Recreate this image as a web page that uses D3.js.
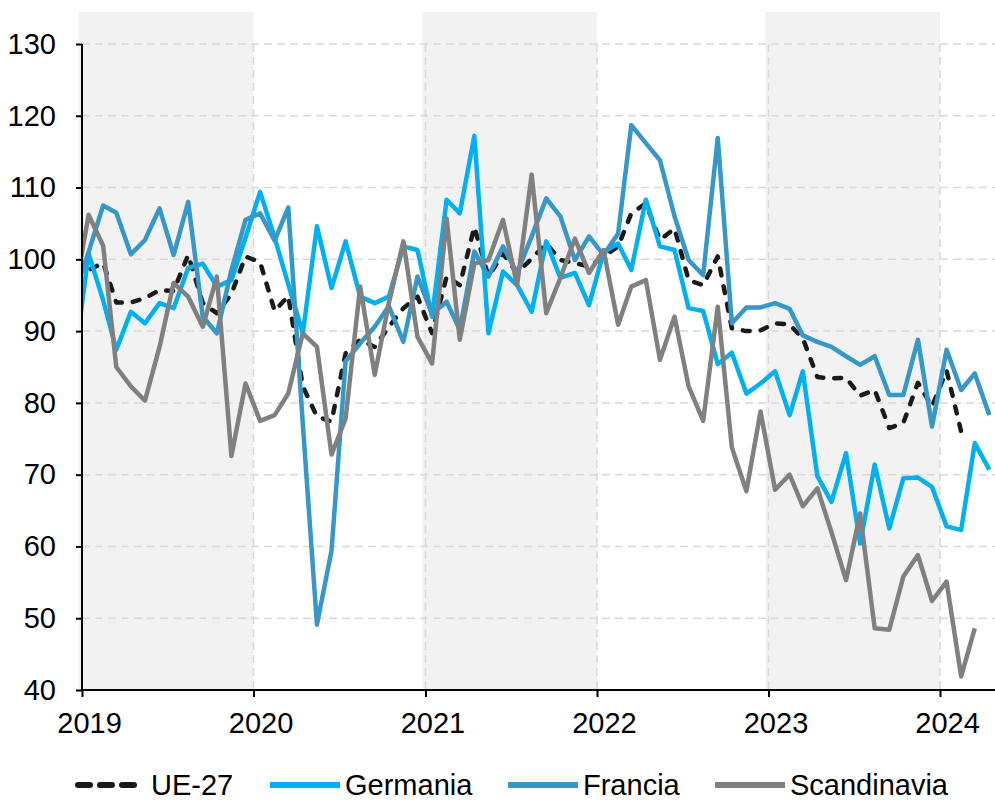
<!DOCTYPE html>
<html><head><meta charset="utf-8">
<script src="https://cdn.jsdelivr.net/npm/d3@7"></script>
<style>
body{margin:0;background:#fff;}
text{font-family:"Liberation Sans",Arial,sans-serif;}
</style>
</head><body>
<svg id="chart" width="995" height="800"></svg>
<script>
// Monthly data, first value = Dec 2018 (clipped at the left edge), last = Apr 2024
const firstMonth = [2018, 11];
const seriesNames = ["UE-27", "Germania", "Francia", "Scandinavia"];
const ue27 = [97.7, 98.5, 99.5, 94.0, 94.0, 94.6, 95.7, 95.6, 100.6, 93.9, 92.5, 95.2,
  100.4, 99.6, 92.8, 94.9, 82.3, 78.1, 77.4, 86.9, 88.8, 87.8, 90.6, 93.2,
  94.8, 89.7, 97.6, 96.4, 104.5, 97.6, 100.8, 98.1, 100.1, 102.2, 99.9, 99.5,
  99.0, 100.4, 101.8, 106.4, 107.8, 102.7, 104.3, 97.1, 96.4, 100.4, 90.4, 90.0,
  90.1, 91.1, 90.9, 89.0, 83.6, 83.4, 83.5, 81.0, 81.8, 76.5, 77.2, 82.8,
  79.5, 84.5, 76.0, null, null];
const germania = [85.2, 100.8, 94.3, 87.4, 92.7, 91.1, 93.9, 93.2, 98.8, 99.4, 96.2, 97.1,
  103.0, 109.4, 103.0, 96.5, 89.7, 104.6, 96.0, 102.5, 94.8, 93.9, 94.8, 101.8,
  101.3, 92.0, 108.3, 106.4, 117.2, 89.7, 98.3, 96.4, 92.7, 102.5, 97.4, 98.1,
  93.6, 101.0, 102.2, 98.5, 108.3, 101.8, 101.3, 93.2, 92.8, 85.4, 87.0, 81.3,
  82.7, 84.4, 78.3, 84.4, 69.8, 66.2, 73.0, 60.4, 71.4, 62.5, 69.5, 69.6,
  68.3, 62.8, 62.3, 74.4, 70.7];
const francia = [95.2, 101.0, 107.5, 106.5, 100.7, 102.7, 107.1, 100.6, 108.0, 92.0, 89.7, 98.5,
  105.5, 106.4, 102.6, 107.2, 77.0, 49.1, 59.4, 85.8, 88.3, 90.6, 93.5, 88.5,
  97.6, 92.4, 94.1, 90.2, 101.1, 97.6, 101.8, 98.1, 103.2, 108.5, 106.0, 99.9,
  103.2, 100.6, 103.6, 118.7, 116.2, 113.8, 106.0, 99.9, 97.8, 116.9, 91.1, 93.3,
  93.3, 93.9, 93.1, 89.4, 88.5, 87.8, 86.5, 85.3, 86.5, 81.1, 81.1, 88.8,
  76.7, 87.4, 81.8, 84.1, 78.3];
const scandinavia = [94.6, 106.2, 101.9, 85.0, 82.3, 80.3, 87.8, 96.7, 94.8, 90.6, 97.6, 72.6,
  82.7, 77.5, 78.3, 81.3, 89.7, 87.8, 72.8, 77.8, 96.2, 83.9, 93.9, 102.5,
  89.2, 85.5, 105.7, 88.8, 99.4, 99.9, 105.5, 96.4, 111.8, 92.5, 97.4, 102.9,
  98.1, 101.3, 90.9, 96.2, 97.1, 86.0, 92.0, 82.3, 77.5, 93.4, 73.8, 67.7,
  78.8, 67.9, 70.0, 65.6, 68.1, 62.0, 55.3, 64.6, 48.6, 48.4, 55.8, 58.8,
  52.4, 55.1, 41.9, 48.6, null];
const yearTicks = [2019, 2020, 2021, 2022, 2023, 2024];
const shadedYears = [2019, 2021, 2023];
const yTicks = [40, 50, 60, 70, 80, 90, 100, 110, 120, 130];

const W = 995, H = 800;
const mLeft = 82, mRight = 995, mTop = 44, mBottom = 690;
const svg = d3.select("#chart");

const x = d3.scaleTime().domain([new Date(2019,0,1), new Date(2024,0,1)]).range([mLeft, 940]);
const y = d3.scaleLinear().domain([40,130]).range([mBottom, mTop]);
const dates = ue27.map((_, i) => new Date(firstMonth[0], firstMonth[1] + i, 15));

// shaded bands
svg.append("g").selectAll("rect").data(shadedYears).join("rect")
  .attr("x", d => x(new Date(d,0,1)) - 3)
  .attr("width", d => x(new Date(d+1,0,1)) - x(new Date(d,0,1)) + 3)
  .attr("y", 12).attr("height", mBottom - 12)
  .attr("fill", "#f2f2f2");

// grid
const grid = svg.append("g").attr("stroke", "#d9d9d9").attr("stroke-width", 1.5).attr("stroke-dasharray", "8,5");
grid.selectAll("line.h").data(yTicks.filter(v => v > 40)).join("line").attr("class","h")
  .attr("x1", mLeft).attr("x2", mRight).attr("y1", d => y(d)).attr("y2", d => y(d));
grid.selectAll("line.v").data(yearTicks.slice(1)).join("line").attr("class","v")
  .attr("x1", d => x(new Date(d,0,1))).attr("x2", d => x(new Date(d,0,1)))
  .attr("y1", mTop).attr("y2", mBottom);

// clip
svg.append("clipPath").attr("id","clip").append("rect")
  .attr("x", mLeft).attr("y", 0).attr("width", mRight - mLeft).attr("height", H);

const series = [
  {name: "UE-27", values: ue27, color: "#1a1a1a", dash: "7,11"},
  {name: "Germania", values: germania, color: "#00b0f0"},
  {name: "Francia", values: francia, color: "#3598c8"},
  {name: "Scandinavia", values: scandinavia, color: "#808080"}
];
const line = d3.line().defined(d => d.v != null).x(d => x(d.date)).y(d => y(d.v));
const lines = svg.append("g").attr("clip-path", "url(#clip)");
series.forEach(s => {
  lines.append("path")
    .datum(s.values.map((v, i) => ({date: dates[i], v})))
    .attr("d", line)
    .attr("fill", "none")
    .attr("stroke", s.color)
    .attr("stroke-width", 4.5)
    .attr("stroke-linejoin", "round")
    .attr("stroke-linecap", s.dash ? "round" : "butt")
    .attr("stroke-dasharray", s.dash || null);
});

// axes
const fs = 29;
const yAxis = svg.append("g").attr("transform", `translate(${mLeft},0)`)
  .call(d3.axisLeft(y).tickValues(yTicks).tickSize(6).tickPadding(20).tickSizeOuter(0));
const xAxis = svg.append("g").attr("transform", `translate(0,${mBottom})`)
  .call(d3.axisBottom(x).tickValues(yearTicks.map(yr => new Date(yr,0,1)))
    .tickFormat(d3.timeFormat("%Y")).tickSize(7).tickPadding(15).tickSizeOuter(0));
[yAxis, xAxis].forEach(a => {
  a.selectAll("path.domain").attr("stroke", "#000").attr("stroke-width", 2);
  a.selectAll(".tick line").attr("stroke", "#000").attr("stroke-width", 2);
  a.selectAll("text").attr("font-size", fs).attr("fill", "#000")
    .attr("font-family", '"Liberation Sans", Arial, sans-serif');
});
xAxis.selectAll(".tick text").attr("x", 7);
yAxis.select("path.domain").attr("d", `M0,${mTop}V${mBottom}`);
xAxis.select("path.domain").attr("d", `M${mLeft},0H${mRight}`);

// legend
const legendItems = [
  {s: series[0], x0: 78, x1: 140, tx: 151},
  {s: series[1], x0: 270, x1: 340, tx: 345},
  {s: series[2], x0: 508, x1: 578, tx: 583},
  {s: series[3], x0: 715, x1: 785, tx: 790}
];
const lg = svg.append("g");
const ly = 785;
legendItems.forEach(it => {
  lg.append("line").attr("x1", it.x0).attr("x2", it.x1).attr("y1", ly).attr("y2", ly)
    .attr("stroke", it.s.color).attr("stroke-width", 6)
    .attr("stroke-linecap", it.s.dash ? "round" : "butt")
    .attr("stroke-dasharray", it.s.dash ? "12,10" : null);
  lg.append("text").attr("x", it.tx).attr("y", ly).attr("dy", "0.33em")
    .attr("font-size", fs).attr("fill", "#000").text(it.s.name);
});
</script>
</body></html>
